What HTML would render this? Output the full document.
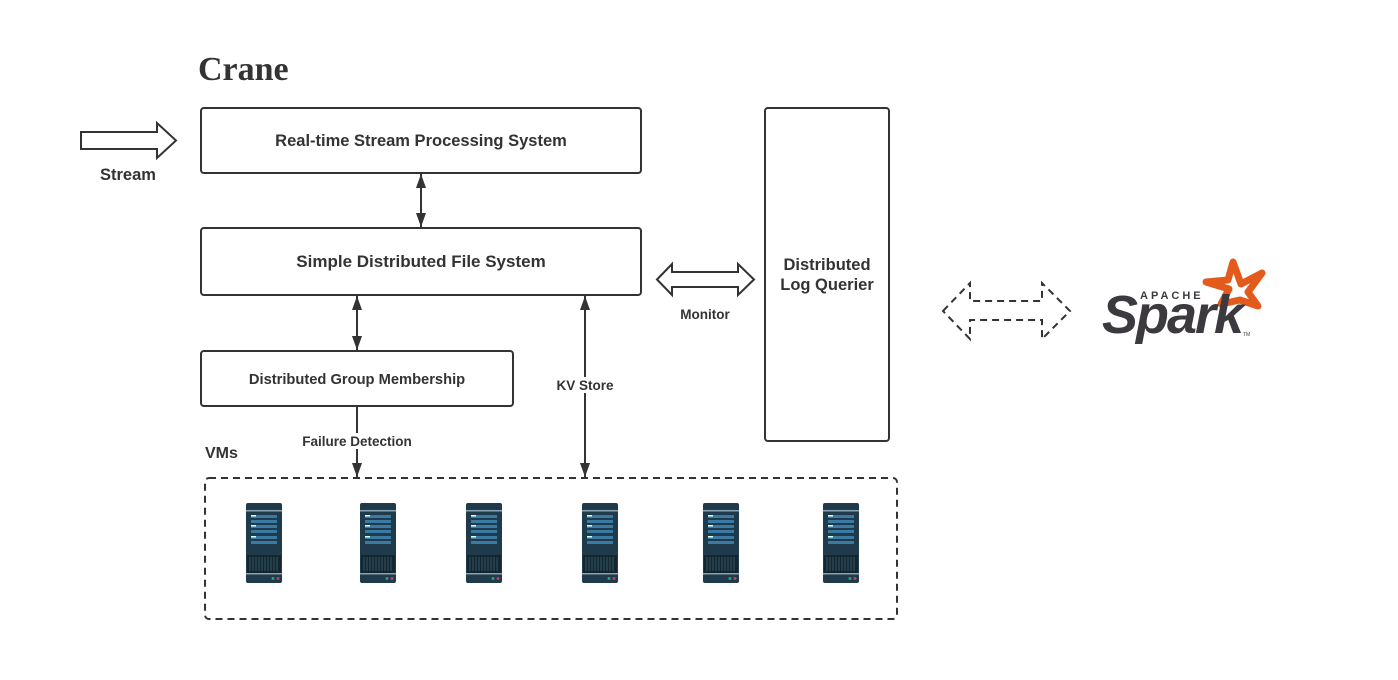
<!DOCTYPE html>
<html><head><meta charset="utf-8"><style>
html,body{margin:0;padding:0;background:#fff;}
svg{display:block;font-family:"Liberation Sans",Arial,sans-serif;}
</style></head><body>
<svg width="1398" height="680" viewBox="0 0 1398 680" xmlns="http://www.w3.org/2000/svg">
<defs>
<marker id="ah" viewBox="0 0 14 10" refX="14" refY="5" markerWidth="14" markerHeight="10" orient="auto-start-reverse" markerUnits="userSpaceOnUse">
<path d="M0,0 L14,5 L0,10 z" fill="#333"/></marker>
<g id="srv">
<rect x="0" y="0" width="36" height="80" rx="2" fill="#1f3a4a"/>
<rect x="0" y="7" width="36" height="1.5" fill="#8aa3b0"/>
<rect x="5" y="12" width="26" height="3" fill="#3a7aa3"/>
<rect x="5" y="17" width="26" height="3" fill="#3a7aa3"/>
<rect x="5" y="22" width="26" height="3" fill="#3a7aa3"/>
<rect x="5" y="27" width="26" height="3" fill="#3a7aa3"/>
<rect x="5" y="33" width="26" height="3" fill="#3a7aa3"/>
<rect x="5" y="38" width="26" height="3" fill="#3a7aa3"/>
<rect x="5" y="12" width="5" height="1.5" fill="#dfe"/>
<rect x="5" y="22" width="5" height="1.5" fill="#dfe"/>
<rect x="5" y="33" width="5" height="1.5" fill="#dfe"/>
<rect x="1" y="52" width="34" height="18" fill="#16262f"/>
<g stroke="#2f5566" stroke-width="1">
<path d="M4,54v14M7,54v14M10,54v14M13,54v14M16,54v14M19,54v14M22,54v14M25,54v14M28,54v14M31,54v14"/></g>
<rect x="0" y="70" width="36" height="1.5" fill="#8aa3b0"/>
<circle cx="27" cy="75.5" r="1.5" fill="#3a9a6a"/>
<circle cx="32" cy="75.5" r="1.5" fill="#c04060"/>
</g>
</defs>

<text x="198" y="80" font-family="Liberation Serif,serif" font-weight="bold" font-size="34" fill="#333">Crane</text>

<path d="M81,132 H157 V123 L176,140.5 L157,158 V149 H81 Z" fill="none" stroke="#333" stroke-width="2"/>
<text x="128" y="180" text-anchor="middle" font-weight="bold" font-size="16.5" fill="#333">Stream</text>

<g fill="none" stroke="#333" stroke-width="2">
<rect x="201" y="108" width="440" height="65" rx="3"/>
<rect x="201" y="228" width="440" height="67" rx="3"/>
<rect x="201" y="351" width="312" height="55" rx="3"/>
<rect x="765" y="108" width="124" height="333" rx="3"/>
</g>
<text x="421" y="146" text-anchor="middle" font-weight="bold" font-size="16.5" fill="#333">Real-time Stream Processing System</text>
<text x="421" y="267" text-anchor="middle" font-weight="bold" font-size="17" fill="#333">Simple Distributed File System</text>
<text x="357" y="384" text-anchor="middle" font-weight="bold" font-size="14.7" fill="#333">Distributed Group Membership</text>
<text x="827" y="270" text-anchor="middle" font-weight="bold" font-size="16.5" fill="#333">Distributed</text>
<text x="827" y="290" text-anchor="middle" font-weight="bold" font-size="16.5" fill="#333">Log Querier</text>

<g stroke="#333" stroke-width="2">
<line x1="421" y1="174" x2="421" y2="227" marker-start="url(#ah)" marker-end="url(#ah)"/>
<line x1="357" y1="296" x2="357" y2="350" marker-start="url(#ah)" marker-end="url(#ah)"/>
<line x1="585" y1="296" x2="585" y2="477" marker-start="url(#ah)" marker-end="url(#ah)"/>
<line x1="357" y1="406" x2="357" y2="477" marker-end="url(#ah)"/>
</g>
<rect x="550" y="377" width="70" height="16" fill="#fff"/>
<text x="585" y="390" text-anchor="middle" font-weight="bold" font-size="13.5" fill="#333">KV Store</text>
<rect x="297" y="433" width="120" height="16" fill="#fff"/>
<text x="357" y="446" text-anchor="middle" font-weight="bold" font-size="13.5" fill="#333">Failure Detection</text>

<path d="M657,279.5 L672,264 V272 H738 V264 L754,279.5 L738,295 V287 H672 V295 Z" fill="none" stroke="#333" stroke-width="2"/>
<text x="705" y="319" text-anchor="middle" font-weight="bold" font-size="13.5" fill="#333">Monitor</text>

<text x="205" y="458" font-weight="bold" font-size="16" fill="#333">VMs</text>
<rect x="205" y="478" width="692" height="141" rx="4" fill="none" stroke="#333" stroke-width="2" stroke-dasharray="7,5"/>
<use href="#srv" x="246" y="503"/>
<use href="#srv" x="360" y="503"/>
<use href="#srv" x="466" y="503"/>
<use href="#srv" x="582" y="503"/>
<use href="#srv" x="703" y="503"/>
<use href="#srv" x="823" y="503"/>

<path d="M943,311 L970,283 V301 H1042 V283 L1070,311 L1042,339 V320 H970 V339 Z" fill="none" stroke="#333" stroke-width="2" stroke-dasharray="7,5"/>

<path d="M1233,262 L1241,284 L1262,273 L1248,292 L1258,306 L1240,300 L1221,304 L1229,289 L1206,282 L1228,280 Z" fill="none" stroke="#e25a1c" stroke-width="7" stroke-linejoin="round"/>
<text x="1140" y="299" font-size="11" font-weight="bold" letter-spacing="3" fill="#3c3a3e">APACHE</text>
<text x="1102" y="333" font-size="54" font-weight="bold" font-style="italic" letter-spacing="-2" fill="#3c3a3e">Spark</text>
<text x="1243" y="336" font-size="5" fill="#3c3a3e">TM</text>
</svg>
</body></html>
